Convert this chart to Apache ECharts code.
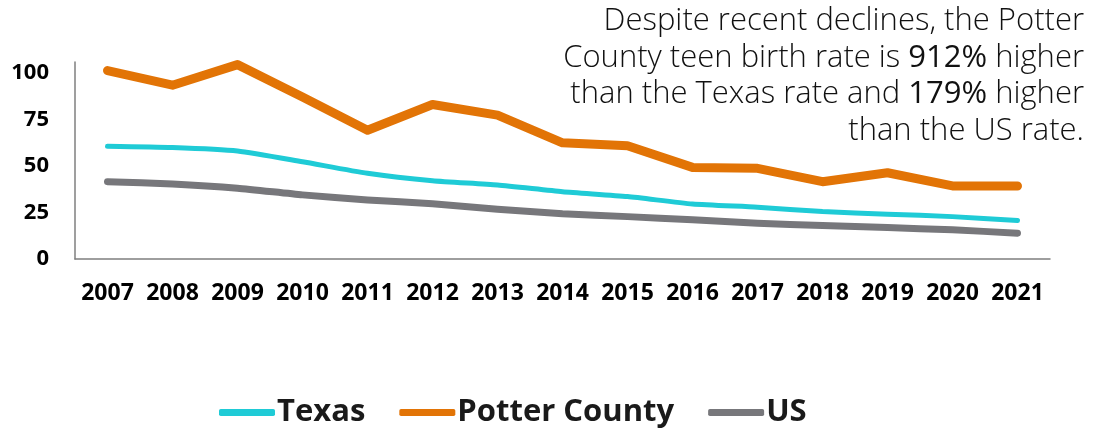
<!DOCTYPE html>
<html>
<head>
<meta charset="utf-8">
<script src="https://cdn.jsdelivr.net/npm/echarts@6/dist/echarts.min.js"></script>
<style>
html,body{margin:0;padding:0;background:#fff;}
#chart{width:1104px;height:431px;}
</style>
</head>
<body>
<div id="chart"></div>
<script>
const years = ['2007','2008','2009','2010','2011','2012','2013','2014','2015','2016','2017','2018','2019','2020','2021'];
const texas = [60.7, 60.0, 58.1, 52.3, 46.1, 42.1, 39.8, 36.2, 33.6, 29.6, 27.9, 25.5, 24.1, 22.8, 20.7];
const potter = [101.4, 93.5, 104.6, 87.2, 69.3, 83.1, 77.4, 62.5, 60.9, 49.3, 48.8, 41.6, 46.4, 39.3, 39.3];
const us = [41.6, 40.4, 38.1, 34.5, 31.8, 29.7, 26.8, 24.3, 22.8, 21.1, 19.3, 18.0, 16.9, 15.7, 13.9];
const yTicks = [0, 25, 50, 75, 100];
const seriesNames = ['Texas', 'Potter County', 'US'];

const chart = echarts.init(document.getElementById('chart'));
const labelFont = '"Open Sans", "Liberation Sans", sans-serif';
chart.setOption({
  animation: false,
  backgroundColor: '#ffffff',
  grid: {left: 75, right: 54, top: 62, bottom: 172, containLabel: false},
  xAxis: {
    type: 'category',
    data: years,
    boundaryGap: true,
    axisLine: {show: true, lineStyle: {color: '#7f7f7f', width: 1.5}},
    axisTick: {show: false},
    axisLabel: {color: '#000', fontFamily: labelFont, fontWeight: 'bold', fontSize: 23, margin: 23, interval: 0, hideOverlap: false}
  },
  yAxis: {
    type: 'value',
    min: 0, max: 106, interval: 25,
    splitLine: {show: false},
    axisLine: {show: true, lineStyle: {color: '#7f7f7f', width: 1.5}},
    axisTick: {show: false},
    axisLabel: {
      color: '#000', fontFamily: labelFont, fontWeight: 'bold', fontSize: 22, margin: 26,
      showMaxLabel: false,
      formatter: v => yTicks.includes(v) ? String(v) : ''
    }
  },
  legend: {
    left: 214, top: 392,
    itemWidth: 56, itemHeight: 7, itemGap: 34,
    icon: 'roundRect',
    textStyle: {color: '#1a1a1a', fontFamily: labelFont, fontWeight: 'bold', fontSize: 31, padding: [0, 0, 0, -3]},
    data: seriesNames
  },
  series: [
    {name: seriesNames[0], type: 'line', data: texas, showSymbol: false, symbol: 'none', smooth: 0.2,
     color: '#1fcbd6', lineStyle: {width: 5, color: '#1fcbd6', cap: 'round', join: 'round'}, z: 3},
    {name: seriesNames[1], type: 'line', data: potter, showSymbol: false, symbol: 'none',
     color: '#e27406', lineStyle: {width: 9, color: '#e27406', cap: 'round', join: 'round'}, z: 4},
    {name: seriesNames[2], type: 'line', data: us, showSymbol: false, symbol: 'none', smooth: 0.2,
     color: '#77777b', lineStyle: {width: 7, color: '#77777b', cap: 'round', join: 'round'}, z: 2}
  ],
  graphic: [{
    type: 'text',
    x: 1084, y: 3,
    z: 10,
    style: {
      text: 'Despite recent declines, the Potter\nCounty teen birth rate is {b|912%} higher\nthan the Texas rate and {b|179%} higher\nthan the US rate.',
      align: 'right',
      verticalAlign: 'top',
      fill: '#111',
      fontFamily: '"Open Sans", Roboto, sans-serif',
      fontWeight: 300,
      fontSize: 31,
      lineHeight: 36.5,
      rich: {
        b: {fontFamily: '"Open Sans", Roboto, sans-serif', fontWeight: 500, fontSize: 31, lineHeight: 36.5, fill: '#111'}
      }
    }
  }]
});
</script>
</body>
</html>
